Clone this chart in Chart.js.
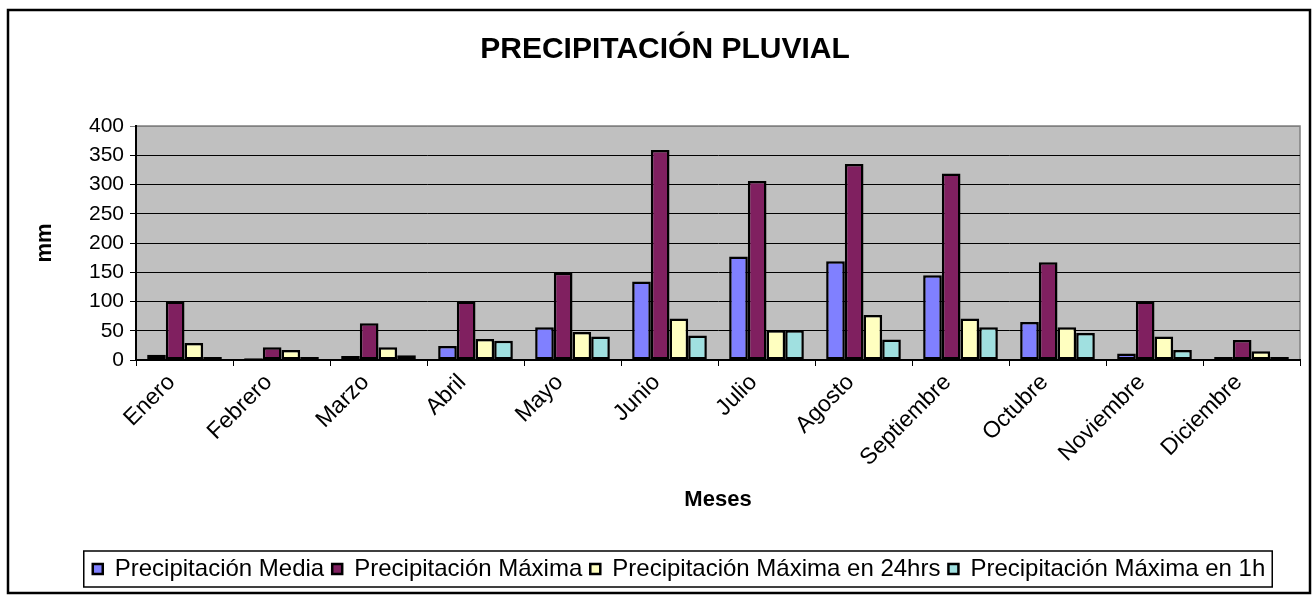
<!DOCTYPE html>
<html lang="es">
<head>
    <meta charset="UTF-8">
    <title>Precipitación Pluvial</title>
    <style>
        body {
            margin: 0;
            background: #fff;
        }
        #chartContainer {
            width: 1314px;
            height: 595px;
        }
    </style>
    <script src="https://cdn.jsdelivr.net/npm/chart.js"></script>
</head>
<body>
    <div id="chartContainer">
        <canvas id="rainChart"></canvas>
    </div>
    <script>
        const meses = ['Enero', 'Febrero', 'Marzo', 'Abril', 'Mayo', 'Junio', 'Julio',
            'Agosto', 'Septiembre', 'Octubre', 'Noviembre', 'Diciembre'];
        const precipMedia = [9, 3, 7, 24, 56, 134, 177, 169, 145, 65, 11, 5];
        const precipMaxima = [100, 22, 63, 100, 149, 359, 306, 335, 319, 167, 100, 34];
        const precipMax24h = [29, 17, 22, 36, 48, 71, 51, 77, 71, 56, 40, 15];
        const precipMax1h = [5, 5, 8, 33, 40, 42, 51, 35, 56, 46, 17, 5];

        const FONT = "'Liberation Sans', Arial, sans-serif";
        Chart.defaults.font.family = FONT;
        Chart.defaults.color = '#000';

        // gray plot area + outer frame, like the old Excel chart
        const frame = {
            id: 'frame',
            afterLayout(chart) {
                // nudge title and legend a little to the right, as in the original
                chart.titleBlock.left += 10;
                chart.titleBlock.right += 10;
                chart.legend.left += 24;
                chart.legend.right += 24;
            },
            beforeDraw(chart) {
                const c = chart.ctx;
                const a = chart.chartArea;
                c.save();
                c.fillStyle = '#c0c0c0';
                c.fillRect(a.left, a.top, a.right - a.left, a.bottom - a.top);
                c.strokeStyle = '#808080';
                c.lineWidth = 1.5;
                c.strokeRect(a.left, a.top, a.right - a.left, a.bottom - a.top);
                c.restore();
            },
            afterDraw(chart) {
                const c = chart.ctx;
                c.save();
                c.strokeStyle = '#000';
                c.lineWidth = 2.5;
                c.strokeRect(8, 10, 1302, 583);
                // box round the legend items
                const boxes = chart.legend.legendHitBoxes;
                if (boxes.length) {
                    const left = Math.min(...boxes.map(b => b.left)) - 9;
                    const right = Math.max(...boxes.map(b => b.left + b.width)) + 7;
                    const top = boxes[0].top - 6;
                    const h = boxes[0].height + 12;
                    c.lineWidth = 1.5;
                    c.strokeRect(left, top, right - left, h);
                }
                c.restore();
            }
        };

        function series(label, data, color) {
            return {
                label: label,
                data: data,
                backgroundColor: color,
                borderColor: '#000',
                borderWidth: 2.5,
                borderSkipped: false,
                categoryPercentage: 0.77,
                barPercentage: 1.0
            };
        }

        const ctx = document.getElementById('rainChart').getContext('2d');
        new Chart(ctx, {
            type: 'bar',
            data: {
                labels: meses,
                datasets: [
                    series('Precipitación Media', precipMedia, '#8080ff'),
                    series('Precipitación Máxima', precipMaxima, '#802060'),
                    series('Precipitación Máxima en 24hrs', precipMax24h, '#ffffc0'),
                    series('Precipitación Máxima en 1h', precipMax1h, '#a0e0e0')
                ]
            },
            options: {
                responsive: true,
                maintainAspectRatio: false,
                animation: false,
                layout: {
                    padding: { left: 10, right: 14, top: 10, bottom: 4 }
                },
                plugins: {
                    title: {
                        display: true,
                        text: 'PRECIPITACIÓN PLUVIAL',
                        font: { size: 30, weight: 'bold' },
                        padding: { top: 22, bottom: 58 }
                    },
                    legend: {
                        position: 'bottom',
                        labels: {
                            font: { size: 24 },
                            boxWidth: 10,
                            boxHeight: 10,
                            padding: 8
                        }
                    },
                    tooltip: { enabled: false }
                },
                scales: {
                    x: {
                        afterFit(scale) { scale.height = 189; },
                        grid: {
                            drawOnChartArea: false,
                            color: '#000',
                            tickLength: 6
                        },
                        border: { color: '#000', width: 2 },
                        ticks: {
                            autoSkip: false,
                            minRotation: 45,
                            maxRotation: 45,
                            labelOffset: -13,
                            font: { size: 23 }
                        },
                        title: {
                            display: true,
                            text: 'Meses',
                            font: { size: 22, weight: 'bold' },
                            padding: { top: 0, bottom: 36 }
                        }
                    },
                    y: {
                        min: 0,
                        max: 400,
                        afterFit(scale) { scale.width = 126; },
                        grid: {
                            color: c => c.tick && c.tick.value === 400 ? '#808080' : '#000',
                            tickLength: 6,
                            lineWidth: 1
                        },
                        border: { color: '#000', width: 2 },
                        ticks: {
                            stepSize: 50,
                            padding: 6,
                            font: { size: 21 }
                        },
                        title: {
                            display: true,
                            text: 'mm',
                            font: { size: 22, weight: 'bold' },
                            padding: { top: 22, bottom: 0 }
                        }
                    }
                }
            },
            plugins: [frame]
        });
    </script>
</body>
</html>
